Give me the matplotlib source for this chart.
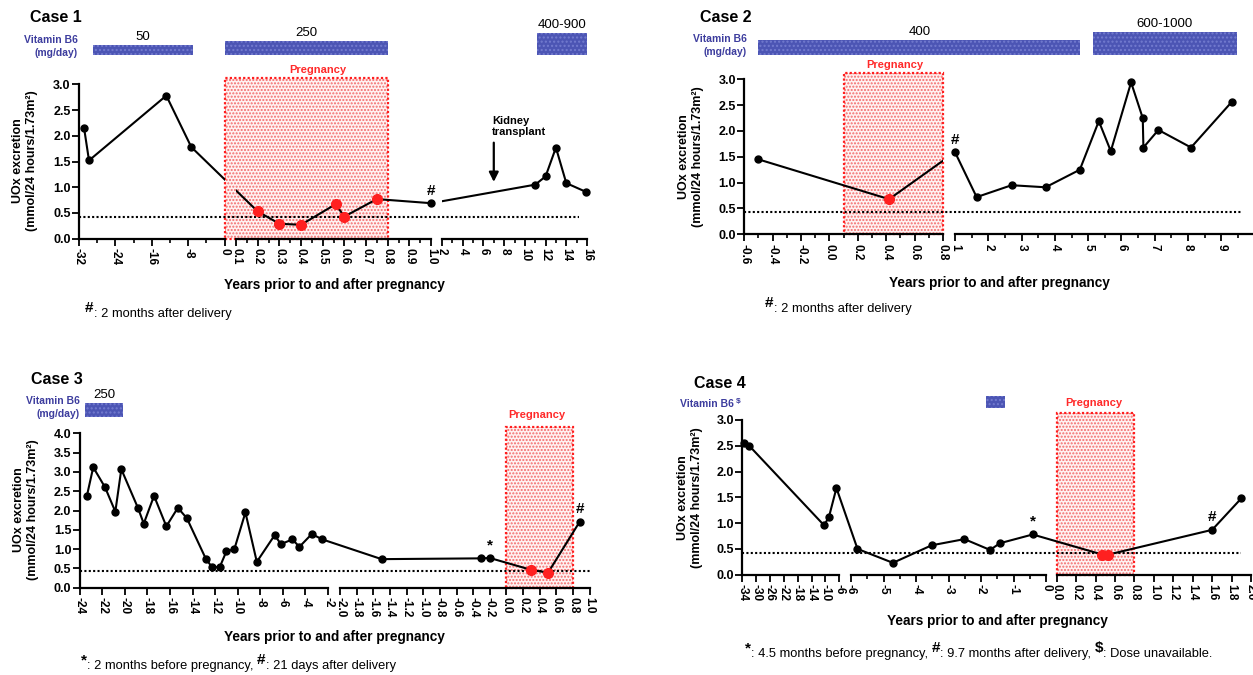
import numpy as np
import matplotlib
matplotlib.use("Agg")
import matplotlib.pyplot as plt
from matplotlib.patches import Rectangle
from matplotlib.ticker import FormatStrFormatter

plt.rcParams["font.family"] = ["Liberation Sans Narrow", "Liberation Sans", "DejaVu Sans"]
plt.rcParams["font.weight"] = "bold"
plt.rcParams["axes.unicode_minus"] = False

W, H = 1253, 675

# ---------------- Case 1 ----------------
c1_x = [-30.9, -29.8, -12.8, -7.3, 0.2, 0.3, 0.4, 0.56, 0.6, 0.75, 1.0, 11.0, 12.0, 13.0, 14.0, 15.9]
c1_y = [2.16, 1.52, 2.78, 1.78, 0.53, 0.29, 0.27, 0.67, 0.43, 0.77, 0.69, 1.05, 1.21, 1.77, 1.08, 0.91]
c1_preg = [0, 0, 0, 0, 1, 1, 1, 1, 1, 1, 0, 0, 0, 0, 0, 0]
c1_marks = {10: "#"}
c1_segments = [(-32, 0), (0.1, 1.0), (2, 16)]
c1_ticks = [[-32, -24, -16, -8, 0],
            [0.1, 0.2, 0.3, 0.4, 0.5, 0.6, 0.7, 0.8, 0.9, 1.0],
            [2, 4, 6, 8, 10, 12, 14, 16]]
c1_minor = [[-28, -20, -12, -4],
            [0.15, 0.25, 0.35, 0.45, 0.55, 0.65, 0.75, 0.85, 0.95],
            [3, 5, 7, 9, 11, 13, 15]]
c1_fmt = ["%d", "%.1f", "%d"]
c1_b6_start = [-29, 0, 11.2]
c1_b6_end = [-7, 0.8, 16]
c1_b6_dose = ["50", "250", "400-900"]
c1_pregnancy = (0, 0.8)
c1_threshold_span = (-32, 15.2)
c1_transplant = 7
c1_note = [("#", True), (": 2 months after delivery", False)]

# ---------------- Case 2 ----------------
c2_x = [-0.5, 0.42, 1.0, 1.65, 2.7, 3.72, 4.75, 5.32, 5.68, 6.29, 6.64, 6.66, 7.11, 8.09, 9.31]
c2_y = [1.45, 0.68, 1.59, 0.72, 0.95, 0.91, 1.25, 2.19, 1.61, 2.94, 2.25, 1.68, 2.02, 1.68, 2.56]
c2_preg = [0, 1, 0, 0, 0, 0, 0, 0, 0, 0, 0, 0, 0, 0, 0]
c2_marks = {2: "#"}
c2_segments = [(-0.6, 0.8), (1, 10)]
c2_ticks = [[-0.6, -0.4, -0.2, 0.0, 0.2, 0.4, 0.6, 0.8],
            [1, 2, 3, 4, 5, 6, 7, 8, 9, 10]]
c2_minor = [[-0.5, -0.3, -0.1, 0.1, 0.3, 0.5, 0.7],
            [1.5, 2.5, 3.5, 4.5, 5.5, 6.5, 7.5, 8.5, 9.5]]
c2_fmt = ["%.1f", "%d"]
c2_b6_start = [-0.5, 5.15]
c2_b6_end = [4.76, 9.46]
c2_b6_dose = ["400", "600-1000"]
c2_pregnancy = (0.1, 0.8)
c2_threshold_span = (-0.6, 9.6)
c2_note = [("#", True), (": 2 months after delivery", False)]

# ---------------- Case 3 ----------------
c3_x = [-23.37, -22.81, -21.76, -20.85, -20.32, -18.85, -18.33, -17.42, -16.33, -15.31,
        -14.51, -12.83, -12.30, -11.60, -11.01, -10.30, -9.32, -8.31, -6.73, -6.17,
        -5.16, -4.53, -3.44, -2.49, -1.5, -0.31, -0.2, 0.3, 0.5, 0.88]
c3_y = [2.38, 3.12, 2.60, 1.97, 3.07, 2.07, 1.66, 2.38, 1.59, 2.07,
        1.80, 0.75, 0.54, 0.53, 0.94, 1.00, 1.95, 0.67, 1.36, 1.13,
        1.25, 1.06, 1.39, 1.25, 0.74, 0.76, 0.77, 0.46, 0.39, 1.71]
c3_preg = [0] * 27 + [1, 1, 0]
c3_marks = {26: "*", 29: "#"}
c3_segments = [(-24, -2), (-2.0, 1.0)]
c3_ticks = [[-24, -22, -20, -18, -16, -14, -12, -10, -8, -6, -4, -2],
            [-2.0, -1.8, -1.6, -1.4, -1.2, -1.0, -0.8, -0.6, -0.4, -0.2,
             0.0, 0.2, 0.4, 0.6, 0.8, 1.0]]
c3_minor = [[], []]
c3_fmt = ["%d", "%.1f"]
c3_b6_start = [-23.5]
c3_b6_end = [-20.15]
c3_b6_dose = ["250"]
c3_pregnancy = (0.0, 0.8)
c3_threshold_span = (-24, 1.0)
c3_note = [("*", True), (": 2 months before pregnancy, ", False),
           ("#", True), (": 21 days after delivery", False)]

# ---------------- Case 4 ----------------
c4_x = [-33.4, -32.0, -10.4, -9.0, -6.8, -5.8, -4.71, -3.52, -2.51, -1.72, -1.42, -0.41,
        0.47, 0.53, 1.6, 1.9]
c4_y = [2.56, 2.50, 0.96, 1.11, 1.68, 0.50, 0.23, 0.57, 0.69, 0.48, 0.61, 0.78,
        0.39, 0.39, 0.87, 1.48]
c4_preg = [0] * 12 + [1, 1, 0, 0]
c4_marks = {11: "*", 14: "#"}
c4_segments = [(-34, -6), (-6, 0), (0.0, 2.0)]
c4_ticks = [[-34, -30, -26, -22, -18, -14, -10, -6],
            [-6, -5, -4, -3, -2, -1, 0],
            [0.0, 0.2, 0.4, 0.6, 0.8, 1.0, 1.2, 1.4, 1.6, 1.8, 2.0]]
c4_minor = [[], [-5.5, -4.5, -3.5, -2.5, -1.5, -0.5], []]
c4_fmt = ["%d", "%d", "%.1f"]
c4_b6_start = [-1.86]
c4_b6_end = [-1.27]
c4_b6_dose = [""]
c4_pregnancy = (0.0, 0.8)
c4_threshold_span = (-34, 1.9)
c4_note = [("*", True), (": 4.5 months before pregnancy, ", False),
           ("#", True), (": 9.7 months after delivery, ", False),
           ("$", True), (": Dose unavailable.", False)]

threshold = 0.43
ylabel = "UOx excretion\n(mmol/24 hours/1.73m²)"
xlabel = "Years prior to and after pregnancy"

cases = [
    dict(title="Case 1", x=c1_x, y=c1_y, preg=c1_preg, marks=c1_marks, segs=c1_segments,
         ticks=c1_ticks, minor=c1_minor, fmt=c1_fmt, ymax=3.0, yticks=np.arange(0, 3.01, 0.5),
         b6=(c1_b6_start, c1_b6_end, c1_b6_dose), preg_span=c1_pregnancy, preg_top=3.12,
         thr=c1_threshold_span, b6_label=[("Vitamin B6\n(mg/day)", False)], note=c1_note),
    dict(title="Case 2", x=c2_x, y=c2_y, preg=c2_preg, marks=c2_marks, segs=c2_segments,
         ticks=c2_ticks, minor=c2_minor, fmt=c2_fmt, ymax=3.0, yticks=np.arange(0, 3.01, 0.5),
         b6=(c2_b6_start, c2_b6_end, c2_b6_dose), preg_span=c2_pregnancy, preg_top=3.13,
         thr=c2_threshold_span, b6_label=[("Vitamin B6\n(mg/day)", False)], note=c2_note),
    dict(title="Case 3", x=c3_x, y=c3_y, preg=c3_preg, marks=c3_marks, segs=c3_segments,
         ticks=c3_ticks, minor=c3_minor, fmt=c3_fmt, ymax=4.0, yticks=np.arange(0, 4.01, 0.5),
         b6=(c3_b6_start, c3_b6_end, c3_b6_dose), preg_span=c3_pregnancy, preg_top=4.17,
         thr=c3_threshold_span, b6_label=[("Vitamin B6\n(mg/day)", False)], note=c3_note),
    dict(title="Case 4", x=c4_x, y=c4_y, preg=c4_preg, marks=c4_marks, segs=c4_segments,
         ticks=c4_ticks, minor=c4_minor, fmt=c4_fmt, ymax=3.0, yticks=np.arange(0, 3.01, 0.5),
         b6=(c4_b6_start, c4_b6_end, c4_b6_dose), preg_span=c4_pregnancy, preg_top=3.13,
         thr=c4_threshold_span, b6_label=[("Vitamin B6 ", False), ("$", True)], note=c4_note),
]

# pixel layout of each panel (note / b6_lab of rich texts give the text bottom)
layouts = [
    dict(seg_px=[(79, 224.5), (236, 431), (442, 587)], y_px=(238.7, 84.3),
         title=(30, 18), b6_lab=(78, 46.5), b6_base=55, b6_h=[10, 14, 22],
         preg_lab=(318, 70), xlab=(334, 285), ylab=(25, 161), note=(85, 320)),
    dict(seg_px=[(744.3, 943), (955, 1254.6)], y_px=(234.3, 79.3),
         title=(700, 18), b6_lab=(747, 45.5), b6_base=55, b6_h=[15, 23],
         preg_lab=(895, 65), xlab=(999, 283), ylab=(691, 157), note=(765, 315)),
    dict(seg_px=[(79.8, 328), (340, 589.7)], y_px=(587.7, 433.3),
         title=(31, 380), b6_lab=(80, 407.5), b6_base=417, b6_h=[14],
         preg_lab=(537, 415), xlab=(334, 637), ylab=(26, 510), note=(81, 672)),
    dict(seg_px=[(742.3, 839.2), (851, 1046), (1056.8, 1251)], y_px=(574.7, 420),
         title=(694, 383), b6_lab=(741, 409), b6_base=408, b6_h=[12],
         preg_lab=(1094, 403), xlab=(997, 621), ylab=(690, 498), note=(745, 660)),
]

fig = plt.figure(figsize=(W / 100, H / 100), dpi=100)
bg = fig.add_axes([0, 0, 1, 1], zorder=0)
bg.set_xlim(0, W)
bg.set_ylim(H, 0)
bg.axis("off")


def box(l, r, b, t):
    return [l / W, 1 - b / H, (r - l) / W, (b - t) / H]


def rich(x, y, parts, size, weight, color="black", ha="left", sup_size=11, raise_pt=3.5):
    # chain text pieces side by side, raising the superscript symbols
    pieces = parts if ha == "left" else parts[::-1]
    prev, prev_dy = None, 0
    for s, sup in pieces:
        kw = dict(fontsize=sup_size if sup else size, fontweight="bold" if sup else weight,
                  color=color, ha=ha, va="bottom", annotation_clip=False)
        dy = raise_pt if sup else 0
        if prev is None:
            prev = bg.annotate(s, xy=(x, y), xytext=(0, dy), textcoords="offset points", **kw)
        else:
            anchor = (1, 0) if ha == "left" else (0, 0)
            prev = bg.annotate(s, xy=anchor, xycoords=prev, xytext=(0, dy - prev_dy),
                               textcoords="offset points", **kw)
        prev_dy = dy


def draw_case(d, L):
    xb = [v for s in d["segs"] for v in s]
    ub = [v for s in L["seg_px"] for v in s]
    fwd = lambda v: np.interp(v, xb, ub)
    inv = lambda u: np.interp(u, ub, xb)
    y0, yt = L["y_px"]

    # overlay axes: continuous broken scale for line, markers and shading
    ov = fig.add_axes(box(ub[0], ub[-1], y0, yt), zorder=1)
    ov.set_xscale("function", functions=(fwd, inv))
    ov.set_xlim(xb[0], xb[-1])
    ov.set_ylim(0, d["ymax"])
    ov.axis("off")

    p0, p1 = d["preg_span"]
    ov.add_patch(Rectangle((p0, 0), p1 - p0, d["preg_top"], facecolor="#fff2f2",
                           edgecolor="#f26a6a", hatch=".....", lw=0, clip_on=False, zorder=1))
    ov.add_patch(Rectangle((p0, 0), p1 - p0, d["preg_top"], fill=False, edgecolor="#ff1e1e",
                           ls=(0, (1, 1)), lw=1.6, clip_on=False, zorder=2))
    bg.text(L["preg_lab"][0], L["preg_lab"][1], "Pregnancy", color="#ff2a2a",
            fontsize=8, ha="center", va="center")

    ov.plot(d["thr"], [threshold, threshold], color="black", lw=1.5,
            ls=(0, (1, 1.1)), zorder=2, clip_on=False)

    x = np.array(d["x"])
    y = np.array(d["y"])
    pr = np.array(d["preg"], bool)
    for a, b in d["segs"]:
        ln, = ov.plot(x, y, color="black", lw=1.5, zorder=3)
        ln.set_clip_path(Rectangle((a, -1), b - a, d["ymax"] + 2, transform=ov.transData))
    ov.plot(x[~pr], y[~pr], "o", color="black", ms=5, clip_on=False, zorder=4)
    ov.plot(x[pr], y[pr], "o", color="#ff2020", ms=7, clip_on=False, zorder=4)
    for i, s in d["marks"].items():
        ov.annotate(s, xy=(x[i], y[i]), xytext=(0, 4), textcoords="offset points",
                    ha="center", va="bottom", fontsize=11, annotation_clip=False)

    if d["title"] == "Case 1":
        ov.annotate("", xy=(c1_transplant, 1.05), xytext=(c1_transplant, 1.92),
                    arrowprops=dict(arrowstyle="-|>", lw=1.6, color="black", mutation_scale=14))
        ov.text(c1_transplant - 0.15, 1.98, "Kidney\ntransplant", ha="left", va="bottom",
                fontsize=8, linespacing=1.15)

    # segment axes with the broken x axis
    for k, ((a, b), (l, r)) in enumerate(zip(d["segs"], L["seg_px"])):
        ax = fig.add_axes(box(l, r, y0, yt), facecolor="none", zorder=2)
        ax.set_xlim(a, b)
        ax.set_ylim(0, d["ymax"])
        ax.spines["top"].set_visible(False)
        ax.spines["right"].set_visible(False)
        ax.spines["bottom"].set_linewidth(1.6)
        if k == 0:
            ax.spines["left"].set_linewidth(1.6)
            ax.set_yticks(d["yticks"])
            ax.yaxis.set_major_formatter(FormatStrFormatter("%.1f"))
            ax.tick_params(axis="y", length=5, width=1.3, labelsize=9, pad=1)
        else:
            ax.spines["left"].set_visible(False)
            ax.set_yticks([])
        ax.set_xticks(d["ticks"][k])
        ax.set_xticks(d["minor"][k], minor=True)
        ax.xaxis.set_major_formatter(FormatStrFormatter(d["fmt"][k]))
        ax.tick_params(axis="x", which="major", length=5, width=1.3, labelsize=8.5,
                       labelrotation=-90, pad=2)
        ax.tick_params(axis="x", which="minor", length=3, width=1.2)

    # vitamin B6 bars
    starts, ends, doses = d["b6"]
    bd = fig.add_axes(box(ub[0], ub[-1], L["b6_base"], L["b6_base"] - 40), zorder=1)
    bd.set_xscale("function", functions=(fwd, inv))
    bd.set_xlim(xb[0], xb[-1])
    bd.set_ylim(0, 40)
    bd.axis("off")
    bd.barh(0, np.subtract(ends, starts), left=starts, height=L["b6_h"], align="edge",
            color="#4c55b4", edgecolor="#737bcf", hatch="....", lw=0)
    for s, e, h, lab in zip(starts, ends, L["b6_h"], doses):
        xc = inv((fwd(s) + fwd(e)) / 2)
        bd.text(xc, h + 2, lab, ha="center", va="bottom", fontsize=9.5,
                fontweight="normal", clip_on=False)

    if len(d["b6_label"]) == 1:
        bg.text(L["b6_lab"][0], L["b6_lab"][1], d["b6_label"][0][0], color="#3d3d9e",
                fontsize=7.5, ha="right", va="center", multialignment="right", linespacing=1.3)
    else:
        rich(L["b6_lab"][0], L["b6_lab"][1], d["b6_label"], 7.5, "bold", color="#3d3d9e",
             ha="right", sup_size=6, raise_pt=3)
    bg.text(L["title"][0], L["title"][1], d["title"], fontsize=11.5, ha="left", va="center")
    bg.text(L["xlab"][0], L["xlab"][1], xlabel, fontsize=9.8, ha="center", va="center")
    bg.text(L["ylab"][0], L["ylab"][1], ylabel, fontsize=9, rotation=90,
            ha="center", va="center", multialignment="center", linespacing=1.3)
    rich(L["note"][0], L["note"][1], d["note"], 9.3, "normal")


for d, L in zip(cases, layouts):
    draw_case(d, L)

fig.savefig("out.png", dpi=100)
